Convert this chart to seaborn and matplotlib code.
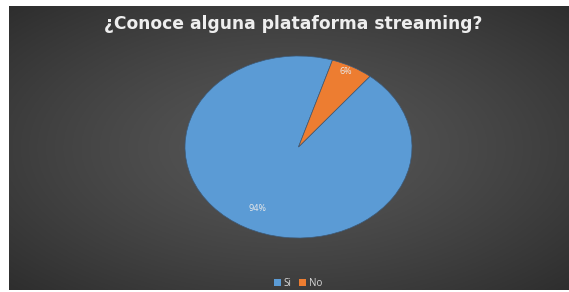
import numpy as np
import matplotlib.pyplot as plt
import seaborn as sns
from matplotlib.patches import Patch

# datos
categorias = ['Si', 'No']
porcentajes = [94, 6]
titulo = '¿Conoce alguna plataforma streaming?'

sns.set_theme(style='dark')
plt.rcParams['font.family'] = ['Open Sans', 'DejaVu Sans']
colores = ['#5B9BD5', '#ED7D31']

W, H = 569, 292
fig = plt.figure(figsize=(W / 100, H / 100), dpi=100, facecolor='white')

# fondo gris oscuro con degradado radial
bg = fig.add_axes([9 / W, 2 / H, 560 / W, 284 / H])
yy, xx = np.mgrid[-1:1:200j, -1:1:300j]
r = np.sqrt(xx ** 2 + yy ** 2) / np.sqrt(2)
gris = 0.34 - 0.16 * r ** 1.3
img = np.dstack([gris, gris, gris])
bg.imshow(img, aspect='auto', extent=[0, 1, 0, 1])
bg.set_axis_off()

# pastel (elipse como en la referencia)
ax = fig.add_axes([185 / W, (H - 238) / H, 227 / W, 182 / H])
ax.set_facecolor('none')
wedges, texts, autotexts = ax.pie(
    porcentajes, colors=colores, startangle=51, counterclock=False,
    autopct='%1.0f%%', pctdistance=0.72, radius=1,
    wedgeprops=dict(edgecolor='#3d5a78', linewidth=0.5),
    textprops=dict(color='#e8e8e8', fontsize=6.5))
ax.set_aspect('auto')
ax.set_xlim(-1, 1)
ax.set_ylim(-1, 1)
autotexts[1].set_position((0.42, 0.83))
autotexts[0].set_position((-0.36, -0.68))

fig.text(293 / W, 1 - 24 / H, titulo, ha='center', va='center',
         color='#eeeeee', fontsize=12.3, fontweight='bold', family='DejaVu Sans')

handles = [Patch(facecolor=c, edgecolor='none') for c in colores]
fig.legend(handles, categorias, loc='center', bbox_to_anchor=(298 / W, 1 - 283 / H),
           ncol=2, frameon=False, fontsize=7, labelcolor='#d9d9d9',
           handlelength=0.7, handleheight=0.7, handletextpad=0.3, columnspacing=0.8)

fig.savefig('out.png', dpi=100)
